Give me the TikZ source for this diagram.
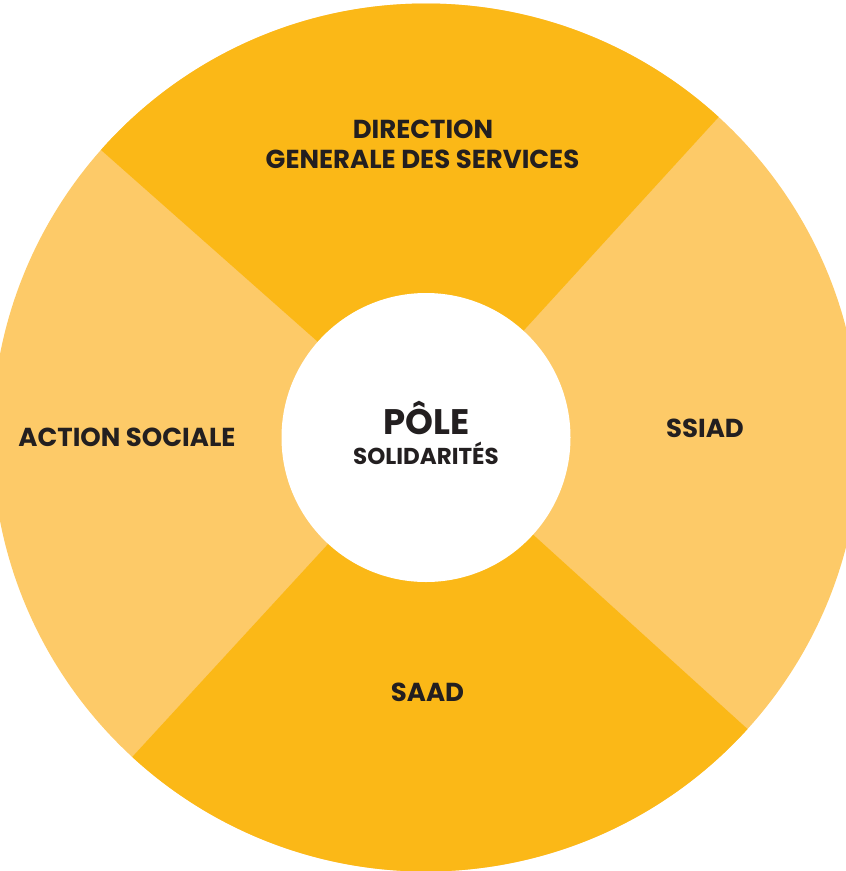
\documentclass[tikz,border=0pt]{standalone}
\usepackage{fontspec}
\setmainfont{Poppins}
\usetikzlibrary{positioning}

\definecolor{sectordark}{HTML}{FBB817}
\definecolor{sectorlight}{HTML}{FDCA68}
\definecolor{labelink}{HTML}{231F20}

\begin{document}
\begin{tikzpicture}[x=1pt,y=1pt,
  sector label/.style={font=\fontsize{26}{30}\selectfont\bfseries,text=labelink,inner sep=0pt,anchor=base},
  hub node/.style={circle,fill=white,minimum size=289pt,inner sep=0pt}]

  \useasboundingbox (0,0) rectangle (846,-871);
  \clip (0,0) rectangle (846,-871);

  \coordinate (c) at (426,-437.5);

  % ring, two light and two dark quarters
  \fill[sectorlight] (c) circle[radius=434];
  \fill[sectordark] (c) -- ++(47.6:434) arc[start angle=47.6,end angle=138.5,radius=434] -- cycle;
  \fill[sectordark] (c) -- ++(227.4:434) arc[start angle=227.4,end angle=317.8,radius=434] -- cycle;

  \node[hub node] (pole) at (c) {};

  \node[sector label,font=\fontsize{35.5}{40}\selectfont\bfseries] (pole title) at (426.5,-434.5) {PÔLE};
  \node[sector label,font=\fontsize{23}{28}\selectfont\bfseries] (pole sub) at (426,-464.5) {SOLIDARITÉS};

  \node[sector label] (direction) at (423,-138.3) {DIRECTION};
  \node[sector label] (dgs) at (422.5,-168.3) {GENERALE DES SERVICES};
  \node[sector label] (action) at (127,-446.7) {ACTION SOCIALE};
  \node[sector label] (ssiad) at (705,-437.3) {SSIAD};
  \node[sector label] (saad) at (427.5,-701.7) {SAAD};

\end{tikzpicture}
\end{document}
